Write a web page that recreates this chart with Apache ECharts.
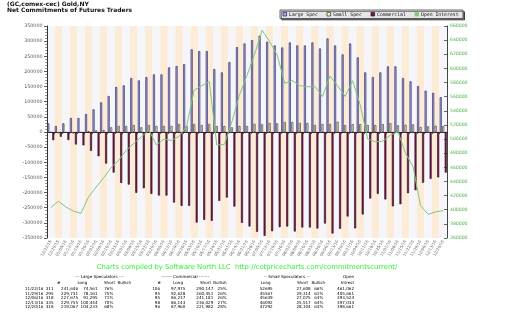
<!DOCTYPE html>
<html>
<head>
<meta charset="utf-8">
<script src="https://cdn.jsdelivr.net/npm/echarts@6/dist/echarts.min.js"></script>
<style>
  html, body { margin: 0; padding: 0; background: #ffffff; }
  #chart { width: 511px; height: 323px; }
</style>
</head>
<body>
<div id="chart"></div>
<script>
// Weekly report dates (Tuesdays)
const weeks = [
  '12/22/15','12/29/15','01/05/16','01/12/16','01/19/16','01/26/16','02/02/16','02/09/16',
  '02/16/16','02/23/16','03/01/16','03/08/16','03/15/16','03/22/16','03/29/16','04/05/16',
  '04/12/16','04/19/16','04/26/16','05/03/16','05/10/16','05/17/16','05/24/16','05/31/16',
  '06/07/16','06/14/16','06/21/16','06/28/16','07/05/16','07/12/16','07/19/16','07/26/16',
  '08/02/16','08/09/16','08/16/16','08/23/16','08/30/16','09/06/16','09/13/16','09/20/16',
  '09/27/16','10/04/16','10/11/16','10/18/16','10/25/16','11/01/16','11/08/16','11/15/16',
  '11/22/16','11/29/16','12/06/16','12/13/16','12/20/16'
];

// Net positions (long - short), contracts
const largeSpec = [
  28600, 19800, 28600, 46200, 46200, 59300, 74700, 97800, 118700, 148400, 153900, 178000, 170300,
  181300, 190100, 190100, 213200, 217600, 224200, 272600, 267000, 267000, 207700, 196700, 230800,
  280200, 292300, 303300, 317600, 297800, 285700, 279100, 295600, 285700, 285700, 295600, 275800,
  308800, 285700, 256100, 292300, 246200, 196700, 181300, 196700, 216500, 216500, 178000,
  167085, 151570, 136380, 129311, 114834
];
const smallSpec = [
  -1500, -4000, -2000, -5000, -2000, 3000, 5500, 6500, 15400, 19800, 19800, 23000, 15400,
  23000, 19800, 19800, 19800, 26400, 19800, 26400, 23000, 26400, 19800, 19800, 15400,
  19800, 19800, 26400, 25300, 29700, 28600, 33000, 33000, 29700, 29700, 23100, 26400,
  26400, 34000, 23000, 26000, 26000, 23000, 23000, 26000, 29000, 22000, 24000,
  25087, 16253, 18564, 20575, 19188
];
const commercial = [
  -27100, -15800, -26600, -41200, -44200, -62300, -80200, -104300, -134100, -168200, -173700, -201000, -185700,
  -204300, -209900, -209900, -233000, -244000, -244000, -299000, -290000, -293400, -227500, -216500, -246200,
  -300000, -312100, -329700, -342900, -327500, -314300, -312100, -328600, -315400, -315400, -318700, -302200,
  -335200, -319700, -279100, -318300, -272200, -219700, -204300, -222700, -245500, -238500, -202000,
  -192172, -167823, -154944, -149886, -134022
];
const openInterest = [
  403000, 412000, 404000, 398000, 395000, 418000, 432000, 445000, 460000, 470000, 484000, 494000, 503000,
  512800, 491600, 500000, 498000, 504000, 518000, 569400, 575500, 581200, 491600, 492500, 524600,
  562300, 590000, 620000, 654000, 637800, 619000, 578900, 582600, 575500, 574100, 574100, 560400,
  589200, 575500, 560400, 582600, 548200, 500000, 496300, 497000, 505700, 510400, 480000,
  461062, 405661, 393524, 397034, 398661
];

// Summary table of the last five reports
const tableTitles = ['--- Large Speculators ---', '------- Commercial -------', '-- Small Speculators --', 'Open'];
const tableHeads = ['#', 'Long', 'Short', 'Bullish', '#', 'Long', 'Short', 'Bullish', 'Long', 'Short', 'Bullish', 'Intrest'];
const tableRows = [
  ['11/22/16', '311', '241,646', '74,561', '76%', '106', '97,975', '290,147', '25%', '52695', '27,608', '66%', '461,062'],
  ['11/29/16', '295', '229,731', '78,161', '75%', '95', '92,628', '260,451', '26%', '45567', '29,314', '61%', '405,661'],
  ['12/06/16', '318', '227,675', '91,295', '71%', '95', '86,237', '241,181', '26%', '45639', '27,075', '63%', '393,524'],
  ['12/13/16', '335', '229,755', '100,444', '70%', '98', '86,143', '236,029', '27%', '46092', '25,517', '64%', '397,034'],
  ['12/20/16', '318', '219,067', '104,233', '68%', '96', '87,960', '221,982', '28%', '47292', '28,104', '63%', '398,661']
];

const seriesNames = ['Large Spec', 'Small Spec', 'Commercial', 'Open Interest'];
const creditLine = 'Charts compiled by Software North LLC  http://cotpricecharts.com/commitmentscurrent/';

const MONO = 'DejaVu Sans Mono';
const SANS = 'DejaVu Sans';

const colors = {
  large: '#a9a9ef', largeEdge: '#1c1c52',
  small: '#fbf7c9', smallEdge: '#2a2a2a',
  comm: '#7c1a55', commEdge: '#2a0818',
  oi: '#7cc87c'
};

// ---- table (column right edges; the date column is left aligned) ----
const colRight = [25, 53.5, 78, 97.5, 113.3, 160, 185.3, 213.3, 226.7, 272.7, 310.7, 323.3, 354];
const headRight = [60.5, 87.3, 115, 131, 161, 183, 211, 226.7, 270.7, 308, 325, 354];
const titleCenter = [99.2, 185.3, 286.7];
const tFont = '4.1px "' + SANS + '"';

const graphics = [];
function txt(x, y, s, align, font, fill) {
  graphics.push({ type: 'text', x: x, y: y, silent: true,
    style: { text: s, fill: fill || '#000', font: font, textAlign: align, textVerticalAlign: 'middle' } });
}
titleCenter.forEach((cx, i) => txt(cx, 276.8, tableTitles[i], 'center', tFont));
txt(354, 276.8, tableTitles[3], 'right', tFont);
tableHeads.forEach((h, i) => txt(headRight[i], 283, h, 'right', tFont));
tableRows.forEach((row, r) => {
  row.forEach((cell, c) => txt(colRight[c], 289.4 + r * 4.5, cell, c === 0 ? 'left' : 'right', tFont));
});
txt(247, 267.5, creditLine, 'center', '6.8px "' + SANS + '"', '#33ee33');

// ---- legend box ----
graphics.push({ type: 'rect', silent: true, z: 10,
  shape: { x: 280, y: 10, width: 183, height: 8.5 },
  style: { fill: '#e6e6e6', stroke: '#444', lineWidth: 0.8,
    shadowColor: 'rgba(0,0,0,0.55)', shadowBlur: 0.5, shadowOffsetX: 1.5, shadowOffsetY: 1.5 } });
const legendX = [283, 327, 371, 415];
const legendIcon = [
  { fill: colors.large, stroke: colors.largeEdge },
  { fill: colors.small, stroke: colors.smallEdge },
  { fill: colors.comm, stroke: colors.commEdge },
  { fill: colors.oi, stroke: colors.oi }
];
seriesNames.forEach((name, i) => {
  graphics.push({ type: 'rect', silent: true, z: 11,
    shape: { x: legendX[i], y: 12.4, width: 3.6, height: 3.6 },
    style: { fill: legendIcon[i].fill, stroke: legendIcon[i].stroke, lineWidth: 0.7 } });
  graphics.push({ type: 'text', silent: true, z: 11, x: legendX[i] + 6, y: 14.3,
    style: { text: name, fill: '#111', font: '4.8px "' + MONO + '"', textAlign: 'left', textVerticalAlign: 'middle' } });
});

const chart = echarts.init(document.getElementById('chart'), null, { renderer: 'canvas' });

const barCommon = { type: 'bar', barWidth: 2, barGap: '25%', yAxisIndex: 0 };
const plain = v => String(v);

chart.setOption({
  animation: false,
  backgroundColor: '#ffffff',
  title: {
    text: '(GC,comex-cec) Gold,NY\nNet Commitments of Futures Traders',
    left: 7, top: 2, padding: 0,
    textStyle: { fontFamily: SANS, fontSize: 6, fontWeight: 'bold', color: '#111', lineHeight: 5.6 }
  },
  grid: { left: 47, right: 64, top: 26, bottom: 85, containLabel: false },
  xAxis: {
    type: 'category',
    data: weeks,
    boundaryGap: true,
    axisLine: { lineStyle: { color: '#333', width: 1 } },
    axisTick: { show: true, length: 2, lineStyle: { color: '#333', width: 0.8 } },
    axisLabel: { interval: 0, rotate: 60, fontSize: 4, fontFamily: SANS, color: '#666', margin: 2.5 },
    splitArea: { show: true, interval: 0, areaStyle: { color: ['#f6f6fa', '#fcebd7'] } },
    splitLine: { show: false }
  },
  yAxis: [
    {
      type: 'value', min: -350000, max: 350000, interval: 50000, position: 'left',
      axisLine: { show: true, lineStyle: { color: '#333', width: 1 } },
      axisTick: { show: true, length: 3, lineStyle: { color: '#333', width: 0.8 } },
      minorTick: { show: true, splitNumber: 5, length: 1.8, lineStyle: { color: '#444', width: 0.6 } },
      axisLabel: { fontSize: 4.8, fontFamily: SANS, color: '#555', margin: 4.5, formatter: plain },
      splitLine: { show: false }
    },
    {
      type: 'value', min: 360000, max: 660000, interval: 20000, position: 'right',
      axisLine: { show: true, lineStyle: { color: '#444', width: 1 } },
      axisTick: { show: true, inside: true, length: 3, lineStyle: { color: '#444', width: 0.8 } },
      axisLabel: { fontSize: 4.6, fontFamily: SANS, color: '#55b455', margin: 3, formatter: plain },
      splitLine: { show: false }
    }
  ],
  series: [
    Object.assign({}, barCommon, {
      name: seriesNames[0], data: largeSpec,
      itemStyle: { color: colors.large, borderColor: colors.largeEdge, borderWidth: 0.6 }
    }),
    Object.assign({}, barCommon, {
      name: seriesNames[1], data: smallSpec,
      itemStyle: { color: colors.small, borderColor: colors.smallEdge, borderWidth: 0.6 }
    }),
    Object.assign({}, barCommon, {
      name: seriesNames[2], data: commercial,
      itemStyle: { color: colors.comm, borderColor: colors.commEdge, borderWidth: 0.6 }
    }),
    {
      name: seriesNames[3], type: 'line', yAxisIndex: 1, data: openInterest,
      symbol: 'none', z: 5,
      lineStyle: { color: colors.oi, width: 1 },
      itemStyle: { color: colors.oi }
    }
  ],
  graphic: graphics
});
</script>
</body>
</html>
